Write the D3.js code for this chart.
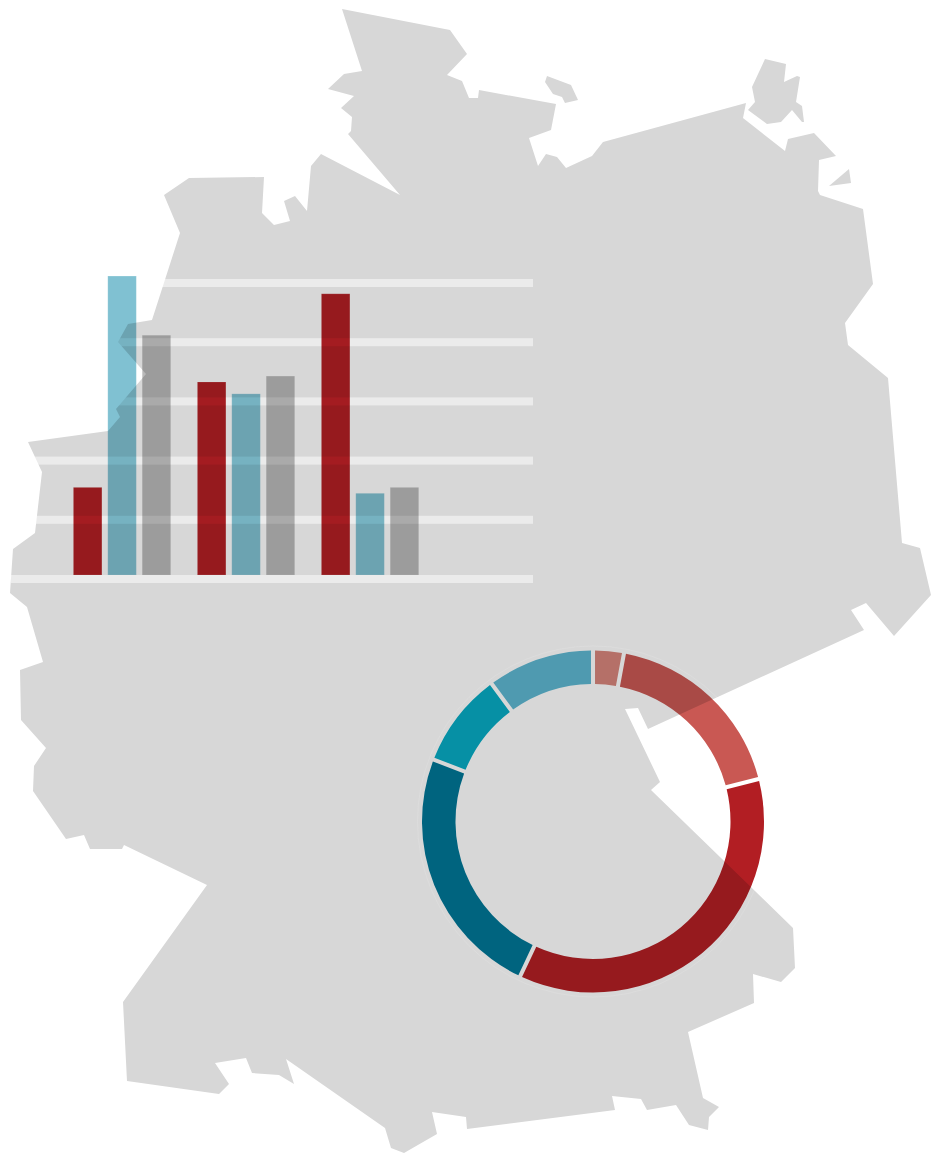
<!DOCTYPE html>
<html>
<head>
<meta charset="utf-8">
<script src="https://cdn.jsdelivr.net/npm/d3@7"></script>
<style>
html,body{margin:0;padding:0;background:#fff}
svg{display:block}
</style>
</head>
<body>
<svg id="chart" width="934" height="1153"></svg>
<script>
// Bar chart data
const groups = ["A", "B", "C"];
const seriesNames = ["red", "cyan", "gray"];
const redValues = [1.48, 3.26, 4.75];
const cyanValues = [5.05, 3.06, 1.38];
const grayValues = [4.05, 3.36, 1.48];
const barColors = ["#b21e23", "#80c1d2", "#b9b9b9"];
const gridTicks = [0, 1, 2, 3, 4, 5];

// Donut data (clockwise from the top)
const donutValues = [2.9, 18.1, 36, 23.9, 9, 10.1];
const donutColors = ["#d7857b", "#c95853", "#b21e23", "#007797", "#06abc4", "#5db7d1"];

// Background map outlines
const mainland = [[342,9],[450,30],[467,54],[447,75],[462,81],[469,98],[478,98],[479,90],[556,104],[551,130],[529,138],[538,166],[546,154],[557,157],[566,168],[592,156],[603,142],[746,103],[743,118],[785,151],[788,139],[814,133],[836,156],[819,160],[818,191],[820,195],[863,209],[873,284],[845,323],[848,345],[888,378],[902,543],[920,548],[931,595],[894,636],[866,603],[851,610],[864,630],[648,729],[638,708],[625,709],[660,782],[651,790],[793,928],[795,968],[781,982],[753,974],[754,1003],[688,1032],[703,1098],[719,1107],[709,1117],[708,1130],[689,1125],[676,1105],[647,1110],[641,1099],[612,1096],[615,1110],[467,1129],[466,1117],[432,1112],[437,1134],[404,1153],[391,1148],[385,1128],[286,1059],[294,1084],[279,1075],[252,1073],[246,1058],[215,1063],[229,1084],[219,1094],[127,1081],[123,1002],[207,885],[124,845],[122,849],[90,849],[84,835],[66,839],[33,791],[34,766],[46,748],[21,720],[20,670],[43,662],[27,607],[10,593],[13,549],[35,533],[42,472],[28,442],[108,431],[120,417],[116,409],[146,374],[118,342],[128,324],[152,320],[180,233],[164,195],[189,178],[264,177],[262,213],[274,225],[290,221],[284,201],[295,196],[307,211],[311,166],[321,154],[400,195],[348,134],[351,131],[352,117],[341,108],[354,96],[328,89],[344,74],[362,71]];
const islandRuegen = [[765,59],[786,64],[784,82],[797,76],[800,77],[796,102],[802,106],[804,122],[802,122],[792,110],[781,122],[767,124],[748,110],[755,102],[752,87]];
const islandUsedom = [[849,169],[851,183],[829,186]];
const islandFehmarn = [[547,76],[571,85],[578,100],[565,103],[562,97],[553,94],[545,82]];
const mapShapes = [mainland, islandRuegen, islandUsedom, islandFehmarn];

const svg = d3.select("#chart");
svg.append("rect").attr("width", 934).attr("height", 1153).attr("fill", "#fff");

// Map
const outline = d3.line().curve(d3.curveLinearClosed);
svg.append("g").selectAll("path").data(mapShapes).join("path")
  .attr("d", outline).attr("fill", "#d7d7d7");

// Scales
const y = d3.scaleLinear().domain([0, 5]).range([575, 279]);
const xGroup = d3.scaleBand().domain(groups).range([73.4, 445.4]).paddingInner(0).paddingOuter(0);
const xSeries = d3.scaleBand().domain(seriesNames).range([0, 103.2]).padding(0);
const barWidth = 28.5;

// Grid bands
svg.append("g").selectAll("rect").data(gridTicks).join("rect")
  .attr("x", 11).attr("width", 522)
  .attr("y", d => y(d)).attr("height", 8)
  .attr("fill", "#fff").attr("fill-opacity", 0.5);

// Bars
const seriesValues = [redValues, cyanValues, grayValues];
const barData = groups.flatMap((g, i) => seriesNames.map((s, j) => ({g, s, j, v: seriesValues[j][i]})));
svg.append("g").selectAll("rect").data(barData).join("rect")
  .attr("x", d => xGroup(d.g) + xSeries(d.s))
  .attr("width", barWidth)
  .attr("y", d => y(d.v))
  .attr("height", d => y(0) - y(d.v))
  .attr("fill", d => barColors[d.j])
  .attr("stroke", "#fff").attr("stroke-opacity", 0.2).attr("stroke-width", 0.8)
  .style("mix-blend-mode", "multiply");

// Donut
const cx = 593, cy = 821.5;
const pie = d3.pie().sort(null).value(d => d);
const arc = d3.arc().innerRadius(137.5).outerRadius(171).padAngle(0.0185);
const donut = svg.append("g").attr("transform", `translate(${cx},${cy})`);
donut.append("circle").attr("r", 175.5).attr("fill", "none")
  .attr("stroke", "#fff").attr("stroke-opacity", 0.12).attr("stroke-width", 1);
donut.selectAll("path").data(pie(donutValues)).join("path")
  .attr("d", arc)
  .attr("fill", (d, i) => donutColors[i])
  .style("mix-blend-mode", "multiply");
</script>
</body>
</html>
